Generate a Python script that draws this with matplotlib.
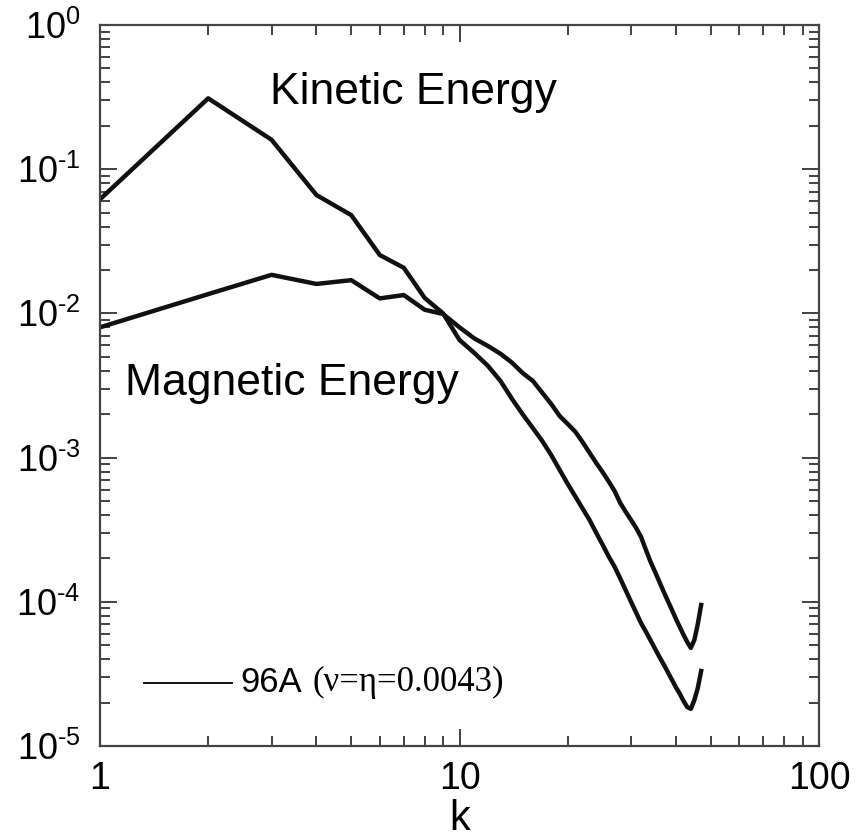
import numpy as np
import matplotlib
matplotlib.use("Agg")
import matplotlib.pyplot as plt
from matplotlib.ticker import LogLocator, FixedFormatter, NullFormatter

plt.rcParams['font.family'] = ['Liberation Sans', 'DejaVu Sans']
plt.rcParams['mathtext.fontset'] = 'custom'
plt.rcParams['mathtext.rm'] = 'Liberation Sans'
plt.rcParams['mathtext.it'] = 'Liberation Sans'

# wavenumber shells
k = np.arange(1, 48)

# energy spectra, run 96A
kinetic = [0.0618, 0.310, 0.160, 0.0662, 0.048, 0.0254, 0.0207, 0.0128, 0.0100, 0.00654,
           0.00531, 0.00432, 0.00340, 0.00255, 0.00199, 0.00160, 0.00130, 0.00104, 0.00082, 0.000656,
           0.000537, 0.000443, 0.000369, 0.000301, 0.000249, 0.000206, 0.000175, 0.000145, 0.000120, 0.000100,
           8.4e-5, 7.1e-5, 6.2e-5, 5.4e-5, 4.72e-5, 4.14e-5, 3.67e-5, 3.24e-5, 2.87e-5, 2.55e-5,
           2.30e-5, 2.05e-5, 1.86e-5, 1.81e-5, 2.08e-5, 2.52e-5, 3.31e-5]
magnetic = [0.0080, 0.0136, 0.0185, 0.0160, 0.0170, 0.0127, 0.0134, 0.0106, 0.0099, 0.00800,
            0.00670, 0.00594, 0.00525, 0.00455, 0.00385, 0.00340, 0.00281, 0.00235, 0.00194, 0.00171,
            0.00151, 0.00128, 0.00108, 0.000918, 0.000794, 0.000683, 0.000586, 0.000484, 0.000420, 0.000369,
            0.000325, 0.000281, 0.000229, 0.000189, 0.000161, 0.000137, 0.000117, 0.000101, 8.77e-5, 7.6e-5,
            6.68e-5, 5.89e-5, 5.26e-5, 4.79e-5, 5.43e-5, 7.0e-5, 9.5e-5]

xticks = [1, 10, 100]
xticklabels = ['1', '10', '100']
yticks = [1e-5, 1e-4, 1e-3, 1e-2, 1e-1, 1e0]
yticklabels = [r'$10^{\text{-}5}$', r'$10^{\text{-}4}$', r'$10^{\text{-}3}$',
               r'$10^{\text{-}2}$', r'$10^{\text{-}1}$', r'$10^{0}$']

fig = plt.figure(figsize=(8.56, 8.38), dpi=100)
ax = fig.add_axes([0.1168, 0.1098, 0.84, 0.8604])

ax.plot(k, kinetic, color='#111111', lw=3.2, solid_joinstyle='round')
ax.plot(k, magnetic, color='#111111', lw=3.2, solid_joinstyle='round')

ax.set_xscale('log')
ax.set_yscale('log')
ax.set_xlim(1, 100)
ax.set_ylim(1e-5, 1)

ax.set_xticks(xticks)
ax.xaxis.set_major_formatter(FixedFormatter(xticklabels))
ax.set_yticks(yticks)
ax.yaxis.set_major_formatter(FixedFormatter(yticklabels))
ax.xaxis.set_minor_locator(LogLocator(base=10, subs=np.arange(2, 10)))
ax.yaxis.set_minor_locator(LogLocator(base=10, subs=np.arange(2, 10)))
ax.xaxis.set_minor_formatter(NullFormatter())
ax.yaxis.set_minor_formatter(NullFormatter())

ax.tick_params(which='both', direction='in', top=True, right=True,
               color='#333333', width=1.3)
ax.tick_params(which='major', length=12)
ax.tick_params(which='minor', length=7)
ax.tick_params(axis='x', which='major', labelsize=27, pad=11)
ax.tick_params(axis='y', which='major', labelsize=26, pad=14)

for sp in ax.spines.values():
    sp.set_color('#444444')
    sp.set_linewidth(1.6)

ax.set_xlabel('k', fontsize=30, labelpad=1)

ax.text(0.236, 0.890, 'Kinetic Energy', transform=ax.transAxes, fontsize=32, va='baseline')
ax.text(0.035, 0.487, 'Magnetic Energy', transform=ax.transAxes, fontsize=32, va='baseline')

# legend entry: short thin line, run name, parameters in serif
ax.plot([0.061, 0.184], [0.0874, 0.0874], transform=ax.transAxes, color='#111111', lw=1.4)
name = ax.text(0.195, 0.0874, '96A', transform=ax.transAxes, fontsize=25, va='center')
ax.annotate('(ν=η=0.0043)', xy=(1, 0), xycoords=name, xytext=(8, 0), textcoords='offset points',
            fontsize=25, family='Liberation Serif', va='bottom', ha='left')

fig.savefig('out.png', dpi=100)
